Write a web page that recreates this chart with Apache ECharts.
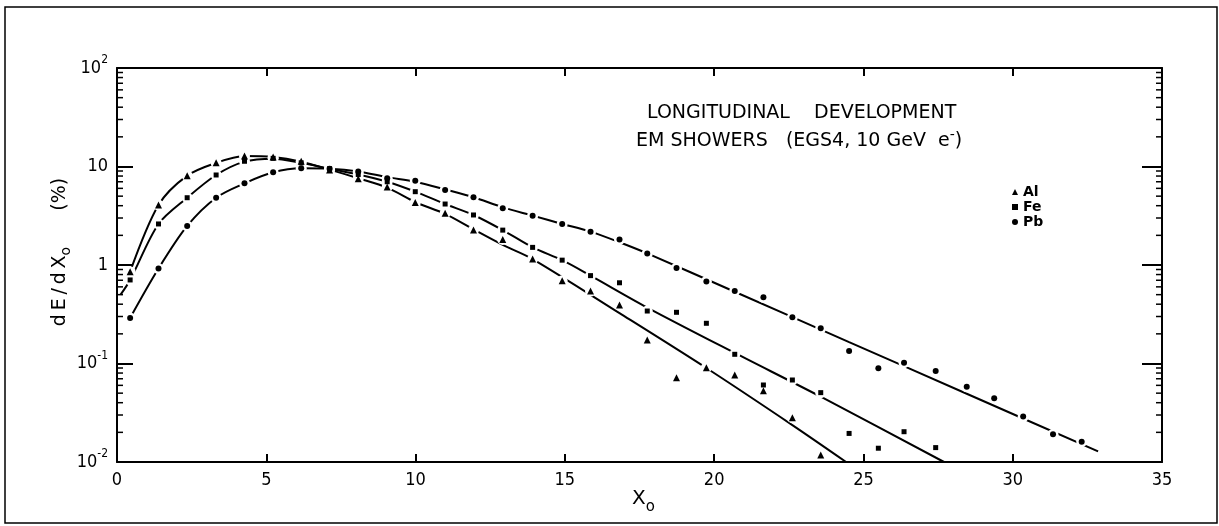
<!DOCTYPE html>
<html>
<head>
<meta charset="utf-8">
<script src="https://cdn.jsdelivr.net/npm/echarts@6/dist/echarts.min.js"></script>
<style>
  html, body { margin: 0; padding: 0; background: #fff; }
  #chart { width: 1219px; height: 526px; }
</style>
</head>
<body>
<div id="chart"></div>
<script>
// Depth (in radiation lengths X0) of each sampled slice
const depthX0 = [0.44, 1.39, 2.35, 3.32, 4.27, 5.23, 6.17, 7.12, 8.08, 9.05,
  9.99, 10.99, 11.94, 12.92, 13.92, 14.91, 15.86, 16.83, 17.76, 18.74,
  19.74, 20.69, 21.65, 22.62, 23.57, 24.52, 25.50, 26.36, 27.42, 28.46,
  29.38, 30.35, 31.35, 32.31];

// Simulated energy deposit per slice, dE/dX0 in %
const alValues = [0.855, 4.06, 8.07, 10.9, 12.8, 12.5, 11.3, 9.2, 7.5, 6.2,
  4.3, 3.35, 2.26, 1.82, 1.15, 0.69, 0.544, 0.393, 0.173, 0.0718,
  0.0906, 0.0763, 0.053, 0.0282, 0.0118];
const feValues = [0.705, 2.61, 4.82, 8.2, 11.3, 12.1, 10.9, 9.5, 8.3, 7.0,
  5.55, 4.16, 3.22, 2.26, 1.51, 1.12, 0.78, 0.66, 0.341, 0.331,
  0.256, 0.124, 0.0605, 0.068, 0.0506, 0.0195, 0.0138, 0.0203, 0.0140];
const pbValues = [0.29, 0.92, 2.49, 4.82, 6.75, 8.73, 9.6, 9.5, 8.9, 7.6,
  7.18, 5.77, 4.87, 3.77, 3.17, 2.61, 2.18, 1.82, 1.31, 0.93,
  0.68, 0.545, 0.47, 0.294, 0.228, 0.134, 0.0893, 0.102, 0.084, 0.058,
  0.0444, 0.0289, 0.0191, 0.0161];

// Fitted longitudinal profiles
const alFitX = [0.44, 1.39, 2.35, 3.32, 4.27, 5.23, 6.17, 7.12, 8.08, 9.05,
  9.99, 10.99, 11.94, 12.92, 13.92, 16.83, 19.74, 22.62, 24.42];
const alFitY = [0.855, 4.06, 8.07, 10.9, 12.8, 12.5, 11.2, 9.3, 7.6, 6.1,
  4.35, 3.3, 2.3, 1.6, 1.15, 0.325, 0.09, 0.0237, 0.01];
const feFitX = [0.12, 0.44, 1.39, 2.35, 3.32, 4.27, 5.23, 6.17, 7.12, 8.08, 9.05,
  9.99, 10.99, 11.94, 12.92, 13.92, 14.91, 15.86, 17.76, 20.69, 23.57, 27.70];
const feFitY = [0.5, 0.705, 2.61, 4.82, 8.2, 11.2, 12.0, 10.9, 9.5, 8.3, 7.0,
  5.55, 4.16, 3.22, 2.26, 1.51, 1.12, 0.78, 0.37, 0.128, 0.046, 0.01];
const pbFitX = [0.44, 1.39, 2.35, 3.32, 4.27, 5.23, 6.17, 7.12, 8.08, 9.05,
  9.99, 10.99, 11.94, 12.92, 13.92, 14.91, 15.86, 16.83, 17.76, 20.69,
  24.52, 28.46, 32.86];
const pbFitY = [0.29, 0.92, 2.49, 4.82, 6.75, 8.73, 9.6, 9.5, 8.9, 7.8,
  7.0, 5.85, 4.87, 3.85, 3.17, 2.61, 2.18, 1.7, 1.31, 0.535,
  0.165, 0.0493, 0.0128];

const materials = ['Al', 'Fe', 'Pb'];
const xTicks = [0, 5, 10, 15, 20, 25, 30, 35];
const yTickExponents = [-2, -1, 0, 1, 2];

const INK = '#000';
const NARROW = "'Liberation Sans Narrow', 'DejaVu Sans Condensed', 'Liberation Sans', sans-serif";
const SANS = "'DejaVu Sans', 'Liberation Sans', sans-serif";

const pairs = (xs, ys) => ys.map((y, i) => [xs[i], y]);

// Log-axis minor ticks at 2..9 of each decade
const minorTickValues = [];
for (let e = yTickExponents[0]; e < yTickExponents[yTickExponents.length - 1]; e++) {
  for (let m = 2; m <= 9; m++) minorTickValues.push(m * Math.pow(10, e));
}

const symbols = { Al: 'triangle', Fe: 'rect', Pb: 'circle' };
const symbolSizes = { Al: 7, Fe: 5, Pb: 6 };
const pointSets = { Al: alValues, Fe: feValues, Pb: pbValues };
const fitSets = { Al: pairs(alFitX, alFitY), Fe: pairs(feFitX, feFitY), Pb: pairs(pbFitX, pbFitY) };

const series = [];
materials.forEach(name => {
  series.push({
    name: name + ' fit', type: 'line', data: fitSets[name], smooth: 0.3,
    showSymbol: false, silent: true, z: 2,
    lineStyle: { color: INK, width: 2 }
  });
});
materials.forEach(name => {
  // white halo that opens the curve around each marker
  series.push({
    name: name + ' halo', type: 'scatter', data: pairs(depthX0, pointSets[name]),
    symbol: 'circle', symbolSize: 11, silent: true, z: 3,
    itemStyle: { color: '#fff', borderWidth: 0, opacity: 1 }
  });
});
materials.forEach(name => {
  series.push({
    name: name, type: 'scatter', data: pairs(depthX0, pointSets[name]),
    symbol: symbols[name], symbolSize: symbolSizes[name], z: 4,
    itemStyle: { color: INK, borderWidth: 0, opacity: 1 }
  });
});
series.push({
  name: 'minor ticks', type: 'custom', coordinateSystem: 'cartesian2d', silent: true, z: 5,
  data: minorTickValues.map(v => [0, v]), encode: { x: 0, y: 1 },
  renderItem(params, api) {
    const y = api.coord([0, api.value(1)])[1];
    const cs = params.coordSys;
    const st = { stroke: INK, lineWidth: 1.5 };
    return {
      type: 'group', children: [
        { type: 'line', shape: { x1: cs.x, y1: y, x2: cs.x + 6, y2: y }, style: st },
        { type: 'line', shape: { x1: cs.x + cs.width - 6, y1: y, x2: cs.x + cs.width, y2: y }, style: st }
      ]
    };
  }
});

const axisLine = { show: true, onZero: false, lineStyle: { color: INK, width: 2 } };

const yLabel = v => {
  const e = Math.round(Math.log10(v));
  if (e === 0) return '{b|1}';
  if (e === 1) return '{b|10}';
  return '{b|10}{s|' + e + '}';
};

const chart = echarts.init(document.getElementById('chart'), null, { renderer: 'canvas' });
chart.setOption({
  animation: false,
  backgroundColor: '#fff',
  grid: { left: 117, right: 57, top: 68, bottom: 64, containLabel: false },
  xAxis: [
    {
      type: 'value', min: xTicks[0], max: xTicks[xTicks.length - 1], interval: 5, position: 'bottom',
      axisLine, splitLine: { show: false },
      axisTick: { inside: true, length: 8, lineStyle: { color: INK, width: 2 } },
      axisLabel: { color: INK, fontSize: 18, fontFamily: NARROW, margin: 9 }
    },
    {
      type: 'value', min: xTicks[0], max: xTicks[xTicks.length - 1], interval: 5, position: 'top',
      axisLine, splitLine: { show: false },
      axisTick: { inside: true, length: 8, lineStyle: { color: INK, width: 2 } },
      axisLabel: { show: false }
    }
  ],
  yAxis: [
    {
      type: 'log', logBase: 10, min: Math.pow(10, yTickExponents[0]),
      max: Math.pow(10, yTickExponents[yTickExponents.length - 1]), position: 'left',
      axisLine, splitLine: { show: false },
      axisTick: { inside: true, length: 16, lineStyle: { color: INK, width: 2 } },
      axisLabel: {
        formatter: yLabel, margin: 9,
        rich: {
          b: { fontSize: 18, fontFamily: NARROW, color: INK, lineHeight: 28 },
          s: { fontSize: 12, fontFamily: NARROW, color: INK, verticalAlign: 'top' }
        }
      }
    },
    {
      type: 'log', logBase: 10, min: Math.pow(10, yTickExponents[0]),
      max: Math.pow(10, yTickExponents[yTickExponents.length - 1]), position: 'right',
      axisLine, splitLine: { show: false },
      axisTick: { inside: true, length: 20, lineStyle: { color: INK, width: 2 } },
      axisLabel: { show: false }
    }
  ],
  legend: {
    data: materials, orient: 'vertical', left: 1007, top: 180,
    itemWidth: 6, itemHeight: 6, itemGap: 1, selectedMode: false,
    textStyle: { fontSize: 14, fontWeight: 'bold', fontFamily: SANS, color: INK, lineHeight: 14 }
  },
  graphic: [
    {
      type: 'rect', silent: true, z: 0,
      shape: { x: 5, y: 7, width: 1212, height: 516 },
      style: { fill: 'none', stroke: INK, lineWidth: 1.5 }
    },
    {
      type: 'text', x: 647, y: 113, silent: true,
      style: { text: 'LONGITUDINAL    DEVELOPMENT', fontSize: 19, fontFamily: SANS, fill: INK,
               align: 'left', verticalAlign: 'middle' }
    },
    {
      type: 'text', x: 636, y: 141, silent: true,
      style: {
        text: '{m|EM SHOWERS   (EGS4, 10 GeV  e}{s|-}{m|)}', fill: INK,
        align: 'left', verticalAlign: 'middle',
        rich: {
          m: { fontSize: 19, fontFamily: SANS, fill: INK, lineHeight: 26 },
          s: { fontSize: 14, fontFamily: SANS, fill: INK, verticalAlign: 'top' }
        }
      }
    },
    {
      type: 'text', x: 632, y: 499, silent: true,
      style: {
        text: '{m|X}{s|o}', align: 'left', verticalAlign: 'middle',
        rich: {
          m: { fontSize: 20, fontFamily: SANS, fill: INK, lineHeight: 32 },
          s: { fontSize: 15, fontFamily: SANS, fill: INK, lineHeight: 16, verticalAlign: 'bottom' }
        }
      }
    },
    {
      type: 'text', x: 60, y: 252, rotation: Math.PI / 2, silent: true,
      style: {
        text: '{m|d\u2009E\u2009/\u2009d\u2009X}{s|o}{m|      (%)}',
        align: 'center', verticalAlign: 'middle',
        rich: {
          m: { fontSize: 19, fontFamily: SANS, fill: INK, lineHeight: 26 },
          s: { fontSize: 14, fontFamily: SANS, fill: INK, lineHeight: 14, verticalAlign: 'bottom' }
        }
      }
    }
  ],
  series
});
</script>
</body>
</html>
